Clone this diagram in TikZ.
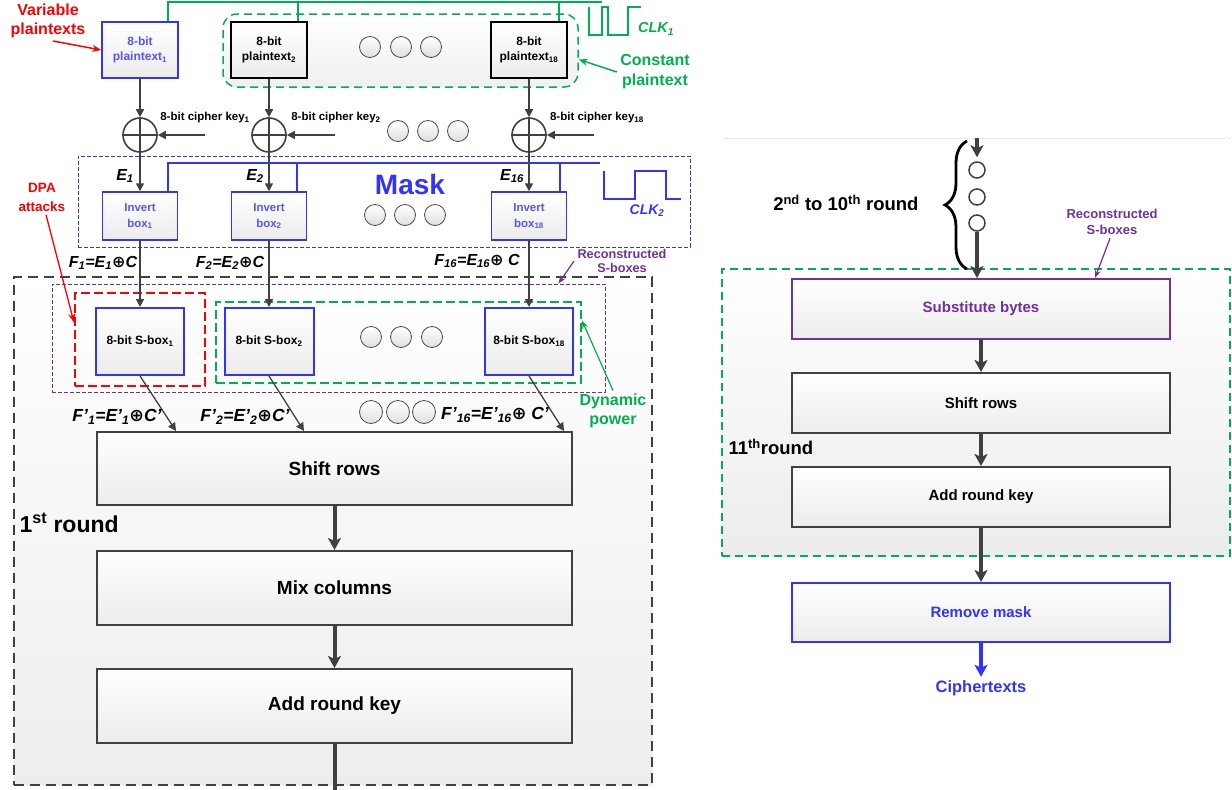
\documentclass[tikz,border=0pt]{standalone}
\usepackage{fontspec}
\setmainfont{Liberation Sans}
\newfontfamily\djv{DejaVu Sans}
\usetikzlibrary{arrows.meta,decorations.pathreplacing}
\definecolor{dg}{HTML}{404040}
\definecolor{bl}{HTML}{3333FF}
\definecolor{bltxt}{HTML}{5555FF}
\definecolor{gr}{HTML}{00B050}
\definecolor{pu}{HTML}{7030A0}
\definecolor{rd}{HTML}{FF0000}
\newcommand\fsz[2]{\fontsize{#1}{#2}\selectfont}
\newcommand\xo{{\djv\bfseries ⊕}}
\begin{document}
\begin{tikzpicture}[x=1pt,y=-1pt,
  box/.style={draw=dg, line width=1.5pt, top color=white, bottom color=gray!15, inner sep=0pt, align=center, font=\bfseries},
  bbox/.style={box, draw=bl, text=bltxt},
  dotc/.style={circle, draw=gray!60!black, line width=0.8pt, top color=white, bottom color=gray!25, minimum size=21pt, inner sep=0pt},
  xorc/.style={circle, draw=dg, line width=1.6pt, fill=white, minimum size=34pt, inner sep=0pt},
  tarr/.style={draw=dg, line width=1.6pt, -{Triangle[length=8pt,width=8pt]}},
  karr/.style={draw=dg, line width=4pt, -{Stealth[length=12pt,width=13pt,inset=3pt]}},
  lbl/.style={font=\bfseries\itshape\fsz{16}{18}},
  lblp/.style={font=\bfseries\itshape\fsz{17.5}{19}},
]
\useasboundingbox (0,0) rectangle (1232,790);

% ---------------- frames ----------------
\node[draw=dg, line width=2pt, dash pattern=on 10pt off 6pt, top color=white, bottom color=gray!14, minimum width=638pt, minimum height=508pt, inner sep=0pt] (r1box) at (333,531) {};
\node[draw=bl, line width=1pt, dash pattern=on 4pt off 2pt, minimum width=612pt, minimum height=91pt, inner sep=0pt] (maskbox) at (384,201.5) {};
\node[draw=gr, line width=1.5pt, dash pattern=on 8pt off 5pt, rounded corners=14pt, top color=white, bottom color=gray!12, minimum width=355pt, minimum height=73pt, inner sep=0pt] (cbox) at (400.5,50.5) {};
\node[draw=pu, line width=0.9pt, dash pattern=on 4pt off 2pt, minimum width=553pt, minimum height=108pt, inner sep=0pt] (pbox) at (328.5,338) {};
\node[draw=rd, line width=2pt, dash pattern=on 9pt off 4pt, minimum width=130pt, minimum height=93pt, inner sep=0pt] (rbox) at (140,339.5) {};
\node[draw=gr, line width=2pt, dash pattern=on 9pt off 4pt, minimum width=365pt, minimum height=81pt, inner sep=0pt] (gbox) at (398.5,342.5) {};

% ---------------- plaintexts ----------------
\node[bbox, minimum width=76pt, minimum height=56pt, font=\bfseries\fsz{12}{15}] (pt1) at (140,50) {8-bit\\plaintext\textsubscript{1}};
\node[box, line width=2pt, draw=black, minimum width=76pt, minimum height=56pt, font=\bfseries\fsz{12}{15}] (pt2) at (269,50) {8-bit\\plaintext\textsubscript{2}};
\node[box, line width=2pt, draw=black, minimum width=76pt, minimum height=56pt, font=\bfseries\fsz{12}{15}] (pt18) at (529,50) {8-bit\\plaintext\textsubscript{18}};
\node[dotc] (d11) at (370,47) {};
\node[dotc] (d12) at (401,47) {};
\node[dotc] (d13) at (431,47) {};

% clock 1 lines
\coordinate (g1) at (602,2);
\draw[gr, line width=1.8pt] ([xshift=-11pt]pt1.north east) |- (g1);
\draw[gr, line width=1.8pt] ([xshift=-10pt]pt2.north east) -- ++(0,-20);
\draw[gr, line width=1.8pt] ([xshift=-9pt]pt18.north east) -- ++(0,-20);
\draw[gr, line width=2pt] (589,7) -- (589,35) -- (602,35) -- (602,7) -- (608,7) -- (608,35) -- (628,35) -- (628,7) -- (641,7);
\node[text=gr, font=\bfseries\itshape\fsz{14.5}{16}] (clk1) at (656,29) {CLK\textsubscript{1}};

% labels top
\node[text=rd, font=\bfseries\fsz{16}{19}, align=center] (vpl) at (48,20.5) {Variable\\plaintexts};
\draw[rd, line width=1.5pt, -{Stealth[length=9pt,width=7pt]}] ([xshift=5pt]vpl.south) -- (pt1.west);
\node[text=gr, font=\bfseries\fsz{16}{20}, align=center] (cpl) at (655,72) {Constant\\plaintext};
\draw[gr, line width=1.5pt, -{Stealth[length=9pt,width=7pt]}] (cpl.west) -- ([yshift=-9pt]cbox.east);

% ---------------- XOR ----------------
\foreach \n/\x in {x1/140,x2/269,x18/529}{
  \node[xorc] (\n) at (\x,135) {};
  \draw[dg, line width=1.6pt] (\n.north) -- (\n.south) (\n.west) -- (\n.east);
}
\coordinate (k1) at (205,135);
\coordinate (k2) at (335,135);
\coordinate (k18) at (594,135);
\draw[tarr] (k1) -- (x1.east);
\draw[tarr] (k2) -- (x2.east);
\draw[tarr] (k18) -- (x18.east);
\node[font=\bfseries\fsz{11.5}{13}] (kl1) at (205,118) {8-bit cipher key\textsubscript{1}};
\node[font=\bfseries\fsz{11.5}{13}] (kl2) at (336,118) {8-bit cipher key\textsubscript{2}};
\node[font=\bfseries\fsz{11.5}{13}] (kl18) at (597,118) {8-bit cipher key\textsubscript{18}};
\node[dotc] (d21) at (398,131) {};
\node[dotc] (d22) at (428,131) {};
\node[dotc] (d23) at (458,131) {};
\draw[tarr] (pt1.south) -- (x1.north);
\draw[tarr] (pt2.south) -- (x2.north);
\draw[tarr] (pt18.south) -- (x18.north);

% ---------------- invert boxes ----------------
\node[bbox, minimum width=75pt, minimum height=48pt, font=\bfseries\fsz{11.5}{16}] (inv1) at (140,216) {Invert\\box\textsubscript{1}};
\node[bbox, minimum width=75pt, minimum height=48pt, font=\bfseries\fsz{11.5}{16}] (inv2) at (269,216) {Invert\\box\textsubscript{2}};
\node[bbox, minimum width=75pt, minimum height=48pt, font=\bfseries\fsz{11.5}{16}] (inv18) at (529,216) {Invert\\box\textsubscript{18}};
\draw[tarr] (x1.south) -- (inv1.north);
\draw[tarr] (x2.south) -- (inv2.north);
\draw[tarr] (x18.south) -- (inv18.north);
\coordinate (m1) at (600,163);
\draw[bl, line width=2pt] ([xshift=-10pt]inv1.north east) |- (m1);
\draw[bl, line width=2pt] ([xshift=-10pt]inv2.north east) -- ++(0,-29);
\draw[bl, line width=2pt] ([xshift=-7pt]inv18.north east) -- ++(0,-29);
\node[text=bl, font=\bfseries\fsz{28}{30}] (mask) at (410,184) {Mask};
\node[dotc] (d31) at (375,215) {};
\node[dotc] (d32) at (405,215) {};
\node[dotc] (d33) at (435,215) {};
\draw[bl, line width=2.5pt] (604,171) -- (604,199) -- (635,199) -- (635,171) -- (666,171) -- (666,199) -- (681,199);
\node[text=bl, font=\bfseries\itshape\fsz{14}{16}] (clk2) at (647,211) {CLK\textsubscript{2}};
\node[lbl] (e1) at (125,176) {E\textsubscript{1}};
\node[lbl] (e2) at (255,176) {E\textsubscript{2}};
\node[lbl] (e16) at (512,176) {E\textsubscript{16}};
\node[text=rd, font=\bfseries\fsz{13.5}{19}, align=center] (dpa) at (42,197) {DPA\\attacks};
\draw[rd, line width=1.3pt, -{Stealth[length=9pt,width=7pt]}] ([xshift=4pt]dpa.south) -- ([yshift=17pt]rbox.west);

% ---------------- S-boxes ----------------
\node[bbox, text=black, line width=2pt, minimum width=88pt, minimum height=67pt, font=\bfseries\fsz{12}{14}] (sb1) at (140,341.5) {8-bit S-box\textsubscript{1}};
\node[bbox, text=black, line width=2pt, minimum width=89pt, minimum height=67pt, font=\bfseries\fsz{12}{14}] (sb2) at (269,341.5) {8-bit S-box\textsubscript{2}};
\node[bbox, text=black, line width=2pt, minimum width=88pt, minimum height=67pt, font=\bfseries\fsz{12}{14}] (sb18) at (529,341.5) {8-bit S-box\textsubscript{18}};
\node[dotc] (d41) at (371,337) {};
\node[dotc] (d42) at (401,337) {};
\node[dotc] (d43) at (432,337) {};
\draw[tarr] (inv1.south) -- (sb1.north);
\draw[tarr] (inv2.south) -- (sb2.north);
\draw[tarr] (inv18.south) -- (sb18.north);
\node[lbl] (f1) at (103,263) {F\textsubscript{1}=E\textsubscript{1}\xo C};
\node[lbl] (f2) at (230,263) {F\textsubscript{2}=E\textsubscript{2}\xo C};
\node[lbl] (f16) at (477,261) {F\textsubscript{16}=E\textsubscript{16}\xo\ C};
\node[text=pu, font=\bfseries\fsz{12.7}{14}, align=center] (rsl) at (622,261) {Reconstructed\\S-boxes};
\draw[pu, line width=1.2pt, -{Stealth[length=8pt,width=6pt]}] (rsl.west) -- ([xshift=-47pt]pbox.north east);
\node[text=gr, font=\bfseries\fsz{16}{19}, align=center] (dyn) at (613,411) {Dynamic\\power};
\draw[gr, line width=1.2pt, -{Stealth[length=8pt,width=6pt]}] (dyn.north) -- ([yshift=22pt]gbox.east);

% ---------------- round 1 ----------------
\node[box, line width=2pt, minimum width=475pt, minimum height=73pt, font=\bfseries\fsz{19}{22}] (sr) at (334.5,468.5) {Shift rows};
\node[box, line width=2pt, minimum width=475pt, minimum height=74pt, font=\bfseries\fsz{19}{22}] (mc) at (334.5,588) {Mix columns};
\node[box, line width=2pt, minimum width=475pt, minimum height=74pt, font=\bfseries\fsz{19}{22}] (ark) at (334.5,706) {Add round key};
\draw[tarr, line width=1.3pt] (sb1.south) -- ([xshift=80pt]sr.north west);
\draw[tarr, line width=1.3pt] (sb2.south) -- ([xshift=208pt]sr.north west);
\draw[tarr, line width=1.3pt] (sb18.south) -- ([xshift=468pt]sr.north west);
\node[lblp] (fp1) at (117,417) {F’\textsubscript{1}=E’\textsubscript{1}\xo C’};
\node[lblp] (fp2) at (245,417) {F’\textsubscript{2}=E’\textsubscript{2}\xo C’};
\node[lblp] (fp16) at (495,415) {F’\textsubscript{16}=E’\textsubscript{16}\xo\ C’};
\node[dotc, minimum size=23pt] (d51) at (371,412) {};
\node[dotc, minimum size=23pt] (d52) at (398,412) {};
\node[dotc, minimum size=23pt] (d53) at (424,412) {};
\draw[karr] (sr.south) -- (mc.north);
\draw[karr] (mc.south) -- (ark.north);
\coordinate (lb) at (334.5,790);
\draw[dg, line width=4pt] (ark.south) -- (lb);
\node[anchor=west, font=\bfseries\fsz{23}{26}] (r1l) at (16,523) {1\textsuperscript{st} round};

% ---------------- right panel ----------------
\draw[gray!20, line width=1pt, dash pattern=on 6pt off 2pt] (724,138) -- (1230,138);
\node[draw=gr, line width=1.5pt, dash pattern=on 8pt off 5pt, top color=white, bottom color=gray!15, minimum width=508pt, minimum height=287pt, inner sep=0pt] (gbox2) at (976,412.5) {};
\node[box, draw=pu, text=pu, line width=2pt, minimum width=378pt, minimum height=60pt, font=\bfseries\fsz{15}{17}] (sub) at (981,309) {Substitute bytes};
\node[box, line width=2pt, minimum width=378pt, minimum height=60pt, font=\bfseries\fsz{15}{17}] (sr2) at (981,403) {Shift rows};
\node[box, line width=2pt, minimum width=378pt, minimum height=60pt, font=\bfseries\fsz{15}{17}] (ark2) at (981,497) {Add round key};
\node[box, draw=bl, text=bl, line width=2pt, minimum width=378pt, minimum height=59pt, font=\bfseries\fsz{15}{17}] (rm) at (981,612.5) {Remove mask};
\node[text=bl, font=\bfseries\fsz{16.5}{18}] (ct) at (981,688) {Ciphertexts};
\node[circle, draw=dg, line width=1.5pt, fill=white, minimum size=16pt, inner sep=0pt] (rc1) at (977,170) {};
\node[circle, draw=dg, line width=1.5pt, fill=white, minimum size=16pt, inner sep=0pt] (rc2) at (977,197) {};
\node[circle, draw=dg, line width=1.5pt, fill=white, minimum size=16pt, inner sep=0pt] (rc3) at (977,223) {};
\coordinate (rtop) at (977,138);
\draw[karr] (rtop) -- ([yshift=4pt]rc1.north);
\draw[karr] (rc3.south) -- (rc3.south |- sub.north);
\draw[karr] (sub.south) -- (sr2.north);
\draw[karr] (sr2.south) -- (ark2.north);
\draw[karr] (ark2.south) -- (rm.north);
\draw[bl, line width=4pt, -{Stealth[length=12pt,width=13pt,inset=3pt]}] (rm.south) -- (ct.north);
\draw[decorate, decoration={brace, amplitude=22pt}, line width=2.8pt] (967,269) -- (967,141);
\node[anchor=east, font=\bfseries\fsz{18.5}{21}] (rr) at (922,203) {2\textsuperscript{nd} to 10\textsuperscript{th} round};
\node[text=pu, font=\bfseries\fsz{13}{16}, align=center] (rsr) at (1112,222) {Reconstructed\\S-boxes};
\draw[pu, line width=1.2pt, -{Stealth[length=8pt,width=6pt]}] ([xshift=-2pt]rsr.south) -- ([xshift=-76pt]sub.north east);
\node[anchor=west, font=\bfseries\fsz{18.5}{21}] (r11) at (725,447) {11\textsuperscript{th}round};
\end{tikzpicture}
\end{document}
